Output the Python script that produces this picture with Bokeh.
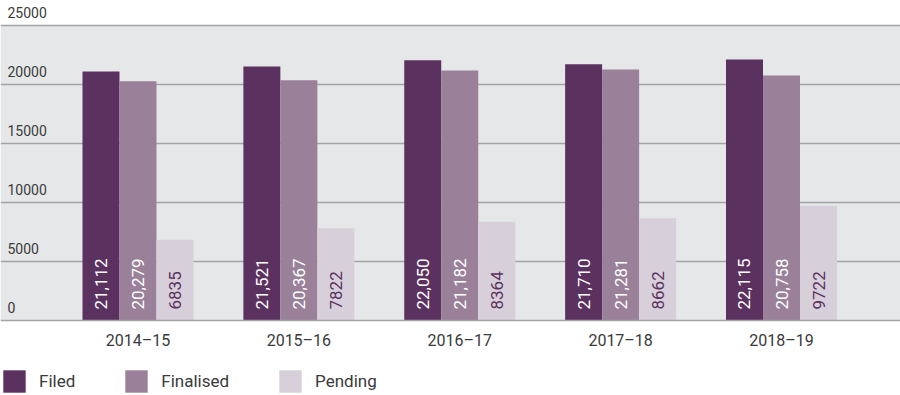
from math import pi
from bokeh.plotting import figure
from bokeh.core.properties import value
from bokeh.models import (ColumnDataSource, Range1d, FixedTicker, BoxAnnotation,
                          LabelSet, Legend, LegendItem)
from bokeh.transform import dodge
from bokeh.embed import file_html
from bokeh.resources import INLINE

# ---- data ----
years = ["2014–15", "2015–16", "2016–17", "2017–18", "2018–19"]
filed = [21112, 21521, 22050, 21710, 22115]
finalised = [20279, 20367, 21182, 21281, 20758]
pending = [6835, 7822, 8364, 8662, 9722]
y_ticks = [0, 5000, 10000, 15000, 20000, 25000]
y_tick_labels = ["0", "5000", "10000", "15000", "20000", "25000"]

# ---- style ----
FILED_C = "#5b3160"
FINAL_C = "#9a8199"
PEND_C = "#d7cfda"
BG_C = "#e6e7e9"
GRID_C = "#a3a3a3"
TEXT_C = "#3a3a3a"
FONT = "Roboto"
W = 0.23

pos = list(range(len(years)))
src = ColumnDataSource(dict(
    pos=pos, filed=filed, finalised=finalised, pending=pending,
    filed_lbl=[f"{v:,}" for v in filed],
    final_lbl=[f"{v:,}" for v in finalised],
    pend_lbl=[str(v) for v in pending],
))

p = figure(width=900, height=395,
           x_range=Range1d(-0.8547, 4.7397), y_range=Range1d(-6356, 27119),
           output_backend="svg", toolbar_location=None, y_axis_location=None,
           min_border_left=0, min_border_right=0, min_border_top=0,
           min_border_bottom=0,
           background_fill_color="white", border_fill_color="white",
           outline_line_color=None)
p.xgrid.visible = False
p.ygrid.visible = False

# grey plot band
p.add_layout(BoxAnnotation(bottom=y_ticks[0], top=y_ticks[-1], fill_color=BG_C,
                           fill_alpha=1, line_alpha=0, level="underlay"))
# grid lines
p.hspan(y=y_ticks[1:], line_color=GRID_C, line_width=1.3)

r1 = p.vbar(x=dodge("pos", -W, range=p.x_range), top="filed", width=W,
            source=src, fill_color=FILED_C, line_color=None)
r2 = p.vbar(x=dodge("pos", 0, range=p.x_range), top="finalised", width=W,
            source=src, fill_color=FINAL_C, line_color=None)
r3 = p.vbar(x=dodge("pos", W, range=p.x_range), top="pending", width=W,
            source=src, fill_color=PEND_C, line_color=None)

for off, col, colr in [(-W, "filed_lbl", "white"), (0, "final_lbl", "white"),
                       (W, "pend_lbl", FILED_C)]:
    p.add_layout(LabelSet(x=dodge("pos", off, range=p.x_range), y=0, text=col,
                          source=src, angle=pi / 2, text_align="left",
                          text_baseline="middle", y_offset=11,
                          text_color=colr, text_font=value(FONT),
                          text_font_size=value("17px")))

# y tick labels sitting above the grid lines
ysrc = ColumnDataSource(dict(y=y_ticks, text=y_tick_labels))
p.add_layout(LabelSet(x=0, x_units="screen", y="y", text="text", source=ysrc,
                      x_offset=7, text_align="left", text_baseline="middle",
                      y_offset=13, text_color=TEXT_C, text_font=value(FONT),
                      text_font_size=value("14px")))

# x axis, drawn at y = 0 inside the frame
ax = p.xaxis[0]
ax.fixed_location = 0
ax.ticker = FixedTicker(ticks=pos)
ax.major_label_overrides = {i: y for i, y in zip(pos, years)}
ax.major_tick_line_color = None
ax.minor_tick_line_color = None
ax.major_tick_out = 0
ax.major_tick_in = 0
ax.axis_line_color = GRID_C
ax.axis_line_width = 1.3
ax.major_label_standoff = 10
ax.major_label_text_font = FONT
ax.major_label_text_font_size = "16px"
ax.major_label_text_color = TEXT_C

legend = Legend(items=[LegendItem(label="Filed", renderers=[r1]),
                       LegendItem(label="Finalised", renderers=[r2]),
                       LegendItem(label="Pending", renderers=[r3])],
                orientation="horizontal", location=(0, 0),
                glyph_width=28, glyph_height=28, label_standoff=11, spacing=47,
                padding=0, margin=0, border_line_color=None,
                background_fill_alpha=0, label_text_font=FONT,
                label_text_font_size="17px", label_text_color=TEXT_C)
p.add_layout(legend)

open("out.html", "w").write(file_html(p, INLINE))
